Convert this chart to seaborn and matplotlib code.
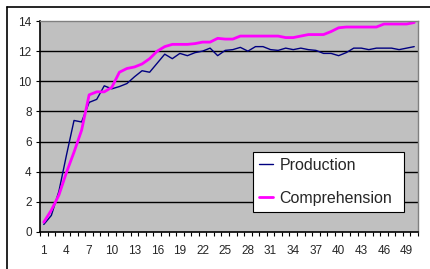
import matplotlib
matplotlib.use("Agg")
import matplotlib.pyplot as plt
import matplotlib.lines as mlines
import numpy as np
import pandas as pd
import seaborn as sns

# values
sessions = list(range(1, 51))
production = [0.5, 1.1, 2.7, 5.1, 7.4, 7.3, 8.6, 8.8, 9.7, 9.5,
              9.65, 9.85, 10.3, 10.7, 10.6, 11.2, 11.8, 11.5, 11.85, 11.7,
              11.9, 12.0, 12.2, 11.7, 12.05, 12.1, 12.25, 12.0, 12.3, 12.3,
              12.1, 12.05, 12.2, 12.1, 12.2, 12.1, 12.05, 11.85, 11.85, 11.7,
              11.9, 12.2, 12.2, 12.1, 12.2, 12.2, 12.2, 12.1, 12.2, 12.3]
comprehension = [0.65, 1.45, 2.45, 3.95, 5.3, 6.75, 9.1, 9.3, 9.3, 9.6,
                 10.6, 10.85, 10.95, 11.15, 11.5, 12.0, 12.3, 12.45, 12.45, 12.45,
                 12.5, 12.6, 12.6, 12.85, 12.8, 12.8, 13.0, 13.0, 13.0, 13.0,
                 13.0, 13.0, 12.9, 12.9, 13.0, 13.1, 13.1, 13.1, 13.3, 13.55,
                 13.6, 13.6, 13.6, 13.6, 13.6, 13.8, 13.8, 13.8, 13.8, 13.9]
series_names = ["Production", "Comprehension"]
series_colors = {"Production": "#000080", "Comprehension": "#FF00FF"}
x_tick_labels = list(range(1, 51, 3))
y_ticks = list(range(0, 15, 2))

df = pd.DataFrame({
    "session": sessions * 2,
    "value": production + comprehension,
    "series": ["Production"] * len(sessions) + ["Comprehension"] * len(sessions),
})

sns.set_style("white")
plt.rcParams["font.family"] = ["Liberation Sans", "DejaVu Sans"]

fig = plt.figure(figsize=(4.30, 2.69), dpi=100)
ax = fig.add_axes([40 / 430, 1 - 232 / 269, 378 / 430, 211 / 269])

sns.lineplot(data=df, x="session", y="value", hue="series",
             palette=series_colors, ax=ax, legend=False)
for line, name in zip(ax.get_lines(), series_names):
    line.set_linewidth(1.0 if name == "Production" else 2.0)

ax.set_facecolor("#C0C0C0")
ax.set_xlim(0.5, 50.5)
ax.set_ylim(0, 14)
ax.set_xlabel("")
ax.set_ylabel("")

# horizontal black gridlines like the Excel chart
for y in y_ticks[1:-1]:
    ax.axhline(y, color="black", linewidth=1.0, zorder=0.5)

ax.set_yticks(y_ticks)
ax.set_xticks(x_tick_labels)
ax.set_xticks(np.arange(0.5, 51, 1), minor=True)
ax.tick_params(axis="x", which="major", length=0, labelsize=8.5, pad=9)
ax.tick_params(axis="x", which="minor", length=3, width=0.8, direction="out",
               color="black", bottom=True)
ax.tick_params(axis="y", which="major", length=3, width=0.8, direction="out",
               color="black", labelsize=8.5, pad=3, left=True)

for side in ["left", "bottom"]:
    ax.spines[side].set_color("black")
    ax.spines[side].set_linewidth(1.2)
for side in ["top", "right"]:
    ax.spines[side].set_color("#808080")
    ax.spines[side].set_linewidth(1.0)

handles = [mlines.Line2D([], [], color=series_colors[n],
                         linewidth=1.0 if n == "Production" else 2.0)
           for n in series_names]
leg = ax.legend(handles, series_names, loc="lower left",
                bbox_to_anchor=((253 - 40) / 378, (232 - 212) / 211,
                                151 / 378, 66 / 211),
                mode="expand", fontsize=11.5, frameon=True, fancybox=False,
                handlelength=0.85, handletextpad=0.4, labelspacing=1.1,
                borderpad=0.4, borderaxespad=0)
leg.get_frame().set_edgecolor("black")
leg.get_frame().set_linewidth(0.8)
leg.get_frame().set_facecolor("white")
leg.get_frame().set_alpha(1)

# outer chart border (top and left visible in the crop)
fig.add_artist(mlines.Line2D([7 / 430, 1], [1 - 7 / 269, 1 - 7 / 269],
                             transform=fig.transFigure, color="black", linewidth=1.2))
fig.add_artist(mlines.Line2D([7 / 430, 7 / 430], [0, 1 - 7 / 269],
                             transform=fig.transFigure, color="black", linewidth=1.2))

fig.savefig("out.png", dpi=100)
plt.close(fig)
